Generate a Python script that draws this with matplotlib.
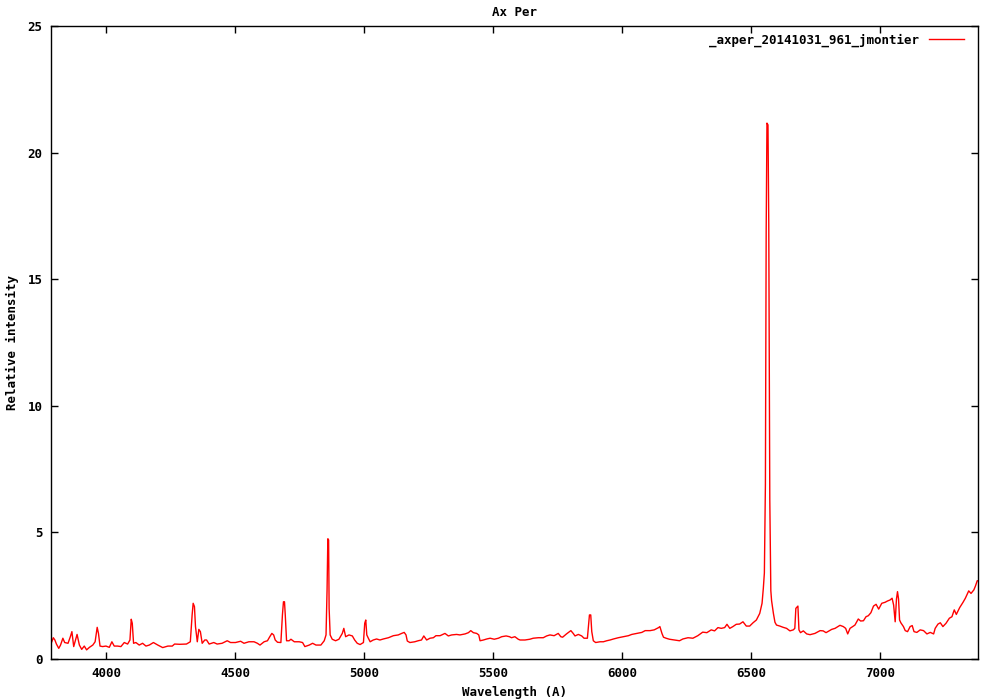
import matplotlib
matplotlib.use("Agg")
import matplotlib.pyplot as plt

# ===== data =====
WAVELENGTH = [
    3790, 3796, 3802, 3808, 3817, 3824, 3833, 3840, 3853, 3862, 3868, 3875, 3882, 3888, 3897,
    3906, 3916, 3925, 3936, 3949, 3958, 3966, 3971, 3977, 3987, 4000, 4013, 4023, 4032, 4045,
    4058, 4071, 4084, 4093, 4098, 4102, 4107, 4116, 4129, 4142, 4155, 4168, 4184, 4201, 4220,
    4240, 4257, 4266, 4286, 4312, 4327, 4334, 4338, 4343, 4347, 4354, 4360, 4366, 4373, 4383,
    4390, 4400, 4418, 4431, 4450, 4470, 4483, 4502, 4522, 4535, 4554, 4574, 4587, 4597, 4613,
    4626, 4635, 4643, 4650, 4656, 4665, 4678, 4684, 4688, 4692, 4695, 4700, 4710, 4717, 4730,
    4749, 4762, 4771, 4788, 4801, 4814, 4833, 4846, 4853, 4857, 4860, 4863, 4865, 4869, 4877,
    4890, 4903, 4916, 4922, 4929, 4942, 4955, 4964, 4974, 4985, 4998, 5003, 5007, 5011, 5017,
    5024, 5036, 5049, 5062, 5075, 5095, 5114, 5133, 5146, 5156, 5163, 5168, 5178, 5197, 5210,
    5223, 5232, 5243, 5256, 5269, 5279, 5295, 5314, 5327, 5340, 5359, 5372, 5392, 5405, 5414,
    5424, 5437, 5445, 5450, 5463, 5476, 5489, 5505, 5521, 5534, 5551, 5564, 5572, 5585, 5598,
    5605, 5624, 5643, 5656, 5676, 5695, 5708, 5721, 5737, 5753, 5763, 5770, 5785, 5802, 5811,
    5818, 5831, 5844, 5853, 5866, 5870, 5874, 5879, 5883, 5889, 5898, 5915, 5928, 5941, 5954,
    5967, 5986, 6006, 6025, 6038, 6058, 6077, 6090, 6109, 6125, 6142, 6147, 6155, 6161, 6171,
    6184, 6204, 6223, 6236, 6256, 6275, 6294, 6313, 6329, 6346, 6359, 6372, 6385, 6398, 6407,
    6418, 6430, 6443, 6456, 6469, 6482, 6495, 6508, 6521, 6534, 6543, 6548, 6552, 6556, 6559,
    6562, 6566, 6569, 6573, 6577, 6580, 6587, 6593, 6599, 6612, 6625, 6638, 6651, 6664, 6670,
    6674, 6682, 6686, 6692, 6703, 6716, 6729, 6748, 6768, 6780, 6791, 6813, 6826, 6845, 6858,
    6867, 6875, 6884, 6894, 6903, 6916, 6925, 6936, 6946, 6955, 6965, 6975, 6985, 6995, 7007,
    7020, 7029, 7039, 7047, 7053, 7059, 7064, 7068, 7072, 7076, 7081, 7091, 7098, 7107, 7117,
    7125, 7132, 7143, 7156, 7169, 7182, 7195, 7208, 7214, 7225, 7234, 7244, 7256, 7269, 7279,
    7288, 7296, 7309, 7322, 7331, 7344, 7353, 7364, 7370, 7377, 7383,
]
INTENSITY = [
    0.68, 0.84, 0.75, 0.59, 0.42, 0.55, 0.82, 0.65, 0.62, 0.88, 1.08, 0.49, 0.75, 0.97, 0.55,
    0.38, 0.51, 0.36, 0.46, 0.55, 0.68, 1.25, 1.01, 0.51, 0.49, 0.51, 0.46, 0.68, 0.51, 0.51,
    0.49, 0.65, 0.59, 0.75, 1.57, 1.41, 0.62, 0.65, 0.55, 0.62, 0.51, 0.55, 0.65, 0.55, 0.45,
    0.51, 0.51, 0.59, 0.58, 0.59, 0.68, 1.74, 2.20, 2.07, 1.28, 0.68, 1.17, 1.08, 0.62, 0.75,
    0.75, 0.59, 0.65, 0.59, 0.62, 0.72, 0.65, 0.65, 0.70, 0.62, 0.68, 0.68, 0.62, 0.55, 0.68,
    0.72, 0.88, 1.01, 0.95, 0.75, 0.66, 0.65, 1.74, 2.26, 2.26, 1.74, 0.72, 0.72, 0.78, 0.68,
    0.68, 0.65, 0.49, 0.55, 0.62, 0.55, 0.55, 0.72, 0.95, 2.72, 4.75, 4.70, 2.00, 0.95, 0.78,
    0.72, 0.78, 1.01, 1.21, 0.88, 0.95, 0.91, 0.75, 0.62, 0.57, 0.65, 1.41, 1.54, 0.95, 0.82,
    0.68, 0.75, 0.79, 0.75, 0.79, 0.84, 0.92, 0.95, 1.01, 1.05, 0.95, 0.71, 0.65, 0.68, 0.72,
    0.75, 0.91, 0.75, 0.82, 0.84, 0.92, 0.92, 1.01, 0.91, 0.95, 0.97, 0.95, 0.99, 1.04, 1.12,
    1.04, 1.01, 0.95, 0.72, 0.75, 0.79, 0.82, 0.78, 0.82, 0.88, 0.91, 0.88, 0.84, 0.88, 0.78,
    0.75, 0.75, 0.78, 0.82, 0.84, 0.84, 0.91, 0.95, 0.92, 1.01, 0.88, 0.86, 0.99, 1.12, 1.01,
    0.91, 0.97, 0.91, 0.82, 0.82, 1.30, 1.74, 1.74, 1.08, 0.72, 0.65, 0.68, 0.68, 0.72, 0.75,
    0.79, 0.84, 0.88, 0.92, 0.97, 1.01, 1.05, 1.12, 1.12, 1.15, 1.24, 1.28, 1.01, 0.86, 0.82,
    0.78, 0.75, 0.72, 0.79, 0.84, 0.82, 0.92, 1.06, 1.04, 1.15, 1.11, 1.24, 1.21, 1.24, 1.37,
    1.21, 1.28, 1.37, 1.38, 1.47, 1.30, 1.30, 1.43, 1.54, 1.80, 2.20, 2.80, 3.40, 6.90, 16.9,
    21.17, 21.10, 17.2, 6.30, 2.70, 2.30, 1.80, 1.45, 1.34, 1.30, 1.25, 1.21, 1.11, 1.15, 1.21,
    2.00, 2.09, 1.15, 1.04, 1.11, 0.99, 0.96, 1.01, 1.12, 1.11, 1.04, 1.17, 1.21, 1.33, 1.28,
    1.21, 0.99, 1.21, 1.28, 1.34, 1.58, 1.50, 1.51, 1.67, 1.71, 1.83, 2.09, 2.16, 1.97, 2.20,
    2.24, 2.29, 2.33, 2.40, 2.13, 1.47, 2.37, 2.66, 2.37, 1.54, 1.43, 1.28, 1.12, 1.08, 1.28,
    1.32, 1.08, 1.05, 1.15, 1.12, 0.99, 1.05, 0.99, 1.21, 1.38, 1.43, 1.28, 1.41, 1.61, 1.67,
    1.94, 1.76, 2.03, 2.24, 2.40, 2.69, 2.59, 2.73, 2.88, 3.09, 3.09,
]
SERIES_LABEL = "_axper_20141031_961_jmontier"
X_TICKS = [4000, 4500, 5000, 5500, 6000, 6500, 7000]
Y_TICKS = [0, 5, 10, 15, 20, 25]

FONT = {"family": "DejaVu Sans Mono", "weight": "bold", "size": 9}


def draw_spectrum() -> None:
    fig = plt.figure(figsize=(10, 7), dpi=100)
    ax = fig.add_axes([0.051, 0.0586, 0.927, 0.904])

    line, = ax.plot(WAVELENGTH, INTENSITY, color="#ff0000", linewidth=1.0)

    ax.set_xlim(3787, 7380)
    ax.set_ylim(0, 25)
    ax.set_xticks(X_TICKS)
    ax.set_yticks(Y_TICKS)
    ax.tick_params(direction="in", length=5, width=1, top=True, right=True, pad=6)
    for lab in ax.get_xticklabels() + ax.get_yticklabels():
        lab.set_fontfamily(FONT["family"])
        lab.set_fontweight(FONT["weight"])
        lab.set_fontsize(FONT["size"])
    for sp in ax.spines.values():
        sp.set_linewidth(1.0)

    ax.set_title("Ax Per", fontdict=FONT, pad=7)
    ax.set_xlabel("Wavelength (A)", fontdict=FONT, labelpad=4)
    ax.set_ylabel("Relative intensity", fontdict=FONT, labelpad=6)

    # ラベルが "_" で始まるので handles/labels を明示して渡す
    ax.legend([line], [SERIES_LABEL], loc="upper right", bbox_to_anchor=(0.997, 1.006),
              frameon=False, markerfirst=False, handlelength=2.8, handletextpad=0.8,
              prop={"family": FONT["family"], "weight": "bold", "size": 9})

    fig.savefig("out.png", format="png")
    plt.close(fig)


if __name__ == "__main__":
    draw_spectrum()
